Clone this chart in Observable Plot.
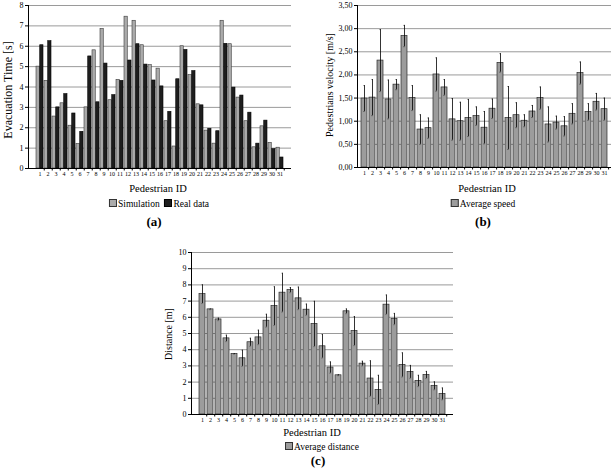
<!DOCTYPE html>
<html><head><meta charset="utf-8">
<script src="https://cdn.jsdelivr.net/npm/d3@7"></script>
<script src="https://cdn.jsdelivr.net/npm/@observablehq/plot@0.6"></script>
<style>
body{margin:0;background:#fff;}
#root{position:relative;width:611px;height:469px;overflow:hidden;font-family:"Liberation Serif","Times New Roman",serif;color:#000}
.panel{position:absolute}
.ytitle{position:absolute;transform:translate(-50%,-50%) rotate(-90deg);white-space:nowrap}
.ctr{position:absolute;transform:translate(-50%,-50%);white-space:nowrap}
.sw{display:inline-block;width:6px;height:6px;border:1px solid #333;margin-right:1px;vertical-align:0px}
</style></head><body><div id="root"></div>
<script>
// ---- data ----
const ids = Array.from({length: 31}, (_, i) => String(i + 1));
const simulation = [5.0,4.3,2.55,3.2,2.1,1.2,3.0,5.8,6.85,3.35,4.35,7.45,7.25,6.05,5.07,4.9,2.32,1.08,6.0,4.58,3.15,1.86,1.22,7.25,6.1,3.48,2.32,1.04,2.07,1.26,1.02];
const realData   = [6.05,6.25,3.0,3.65,2.7,1.8,5.5,3.25,5.15,3.6,4.3,5.3,6.1,5.1,4.32,4.03,2.78,4.38,5.82,4.78,3.1,1.95,1.83,6.12,3.97,3.58,2.74,1.22,2.35,0.95,0.54];
const avgSpeed = [1.49,1.51,2.31,1.47,1.79,2.84,1.50,0.82,0.85,2.01,1.73,1.04,1.00,1.07,1.11,0.86,1.27,2.26,1.07,1.13,1.01,1.21,1.50,0.93,0.97,0.89,1.16,2.04,1.20,1.42,1.26];
const speedErr = [0.28,0.39,0.67,0.42,0.11,0.23,0.27,0.32,0.22,0.36,0.17,0.45,0.41,0.40,0.20,0.35,0.21,0.20,0.68,0.27,0.13,0.13,0.24,0.38,0.14,0.21,0.22,0.24,0.18,0.18,0.24];
const avgDistance = [7.43,6.49,5.87,4.70,3.74,3.47,4.46,4.76,5.79,6.69,7.52,7.68,7.17,6.47,5.59,4.21,2.90,2.42,6.37,5.15,3.14,2.22,1.52,6.78,5.89,3.06,2.63,2.07,2.44,1.77,1.27];
const distErr = [0.58,0.02,0.08,0.2,0.02,0.5,0.25,0.45,0.4,1.2,1.2,0.16,0.7,0.35,1.4,0.73,0.35,0.03,0.15,0.9,0.15,1.1,0.9,0.6,0.35,0.75,0.4,0.35,0.22,0.25,0.37];
const yTicksA = [0,1,2,3,4,5,6,7,8];
const yTicksB = [0,0.5,1,1.5,2,2.5,3,3.5];
const yTicksC = [0,1,2,3,4,5,6,7,8,9,10];

const root = document.getElementById("root");
const SERIF = "Liberation Serif, Times New Roman, serif";

function addPanel(el, left, top) {
  el.classList.add("panel");
  el.style.left = left + "px";
  el.style.top = top + "px";
  root.appendChild(el);
}
function addText(html, cls, x, y, size, extra = "") {
  const d = document.createElement("div");
  d.className = cls;
  d.style.left = x + "px";
  d.style.top = y + "px";
  d.style.fontSize = size + "px";
  d.style.cssText += extra;
  d.innerHTML = html;
  root.appendChild(d);
}

function basePlot({width, height, ml, mr, mt, mb, yDomain, yTicks, yFormat, padding, marks}) {
  const step = (width - ml - mr) / ids.length;
  return Plot.plot({
    width, height,
    marginLeft: ml, marginRight: mr, marginTop: mt, marginBottom: mb,
    style: {fontFamily: SERIF, fontSize: "8px", background: "transparent", overflow: "visible", color: "#000"},
    x: {type: "band", domain: ids, padding, label: null},
    y: {domain: yDomain, label: null},
    marks: [
      Plot.gridY(yTicks, {stroke: "#9a9a9a", strokeOpacity: 1, strokeWidth: 1}),
      ...marks(step),
      Plot.ruleY([yDomain[0]], {stroke: "#000", strokeWidth: 1}),
      Plot.frame({anchor: "left", stroke: "#000", strokeWidth: 1}),
      Plot.axisY(yTicks, {tickSize: 3, tickPadding: 2, tickFormat: yFormat, fontSize: 8, label: null}),
      Plot.axisX({tickSize: 0, tickPadding: 3, fontSize: 6, label: null}),
      Plot.axisX({tickSize: 2.5, tickFormat: () => "", dx: step / 2, label: null})
    ]
  });
}

// ---- panel (a) ----
const rowsA = ids.map((id, i) => ({id, sim: simulation[i], real: realData[i]}));
const pa = basePlot({
  width: 300, height: 190, ml: 28, mr: 9, mt: 5, mb: 22,
  yDomain: [0, 8], yTicks: yTicksA, yFormat: d3.format("d"), padding: 0.12,
  marks: (step) => {
    const half = step * 0.88 / 2;
    return [
      Plot.barY(rowsA, {x: "id", y: "sim", fill: "#ababab", stroke: "#3a3a3a", strokeWidth: 0.6, insetRight: half}),
      Plot.barY(rowsA, {x: "id", y: "real", fill: "#1e1e1e", stroke: "#000", strokeWidth: 0.6, insetLeft: half})
    ];
  }
});
addPanel(pa, 0, 0);

// ---- error bar panels ----
function errPanel(values, errs, opts) {
  const rows = ids.map((id, i) => ({id, v: values[i], lo: values[i] - errs[i], hi: values[i] + errs[i]}));
  return basePlot({...opts, padding: 0.28, marks: (step) => {
    const cap = step / 2 - 1.5;
    return [
      Plot.barY(rows, {x: "id", y: "v", fill: "#9c9c9c", stroke: "#2a2a2a", strokeWidth: 0.7}),
      Plot.ruleX(rows, {x: "id", y1: "lo", y2: "hi", stroke: "#000", strokeWidth: 0.8}),
      Plot.tickY(rows, {x: "id", y: "hi", stroke: "#000", strokeWidth: 0.8, insetLeft: cap, insetRight: cap}),
      Plot.tickY(rows, {x: "id", y: "lo", stroke: "#000", strokeWidth: 0.8, insetLeft: cap, insetRight: cap})
    ];
  }});
}
const commaFmt = d => d3.format(".2f")(d).replace(".", ",");
const pb = errPanel(avgSpeed, speedErr, {width: 311, height: 190, ml: 57, mr: 0, mt: 5, mb: 23,
  yDomain: [0, 3.5], yTicks: yTicksB, yFormat: commaFmt});
addPanel(pb, 300, 0);
const pc = errPanel(avgDistance, distErr, {width: 320, height: 186, ml: 51, mr: 7, mt: 12, mb: 12,
  yDomain: [0, 10], yTicks: yTicksC, yFormat: d3.format("d")});
addPanel(pc, 140, 240);

// ---- titles, legends, captions ----
addText("Evacuation Time [s]", "ytitle", 8, 90, 12);
addText("Pedestrian ID", "ctr", 158, 188, 10.5);
addText('<span class="sw" style="background:#ababab"></span>Simulation&nbsp;&nbsp;<span class="sw" style="background:#1e1e1e;border-color:#000"></span>Real data', "ctr", 159, 204, 9.5);
addText("(a)", "ctr", 154, 222, 13, "font-weight:bold;");

addText("Pedestrians velocity [m/s]", "ytitle", 329, 85, 10);
addText("Pedestrian ID", "ctr", 487, 188, 10.5);
addText('<span class="sw" style="background:#9c9c9c"></span>Average speed', "ctr", 483, 204, 9.5);
addText("(b)", "ctr", 483, 222, 13, "font-weight:bold;");

addText("Distance [m]", "ytitle", 168, 334, 10);
addText("Pedestrian ID", "ctr", 312, 432, 10.5);
addText('<span class="sw" style="background:#9c9c9c"></span>Average distance', "ctr", 322, 447, 9.5);
addText("(c)", "ctr", 318, 461, 13, "font-weight:bold;");
</script></body></html>
